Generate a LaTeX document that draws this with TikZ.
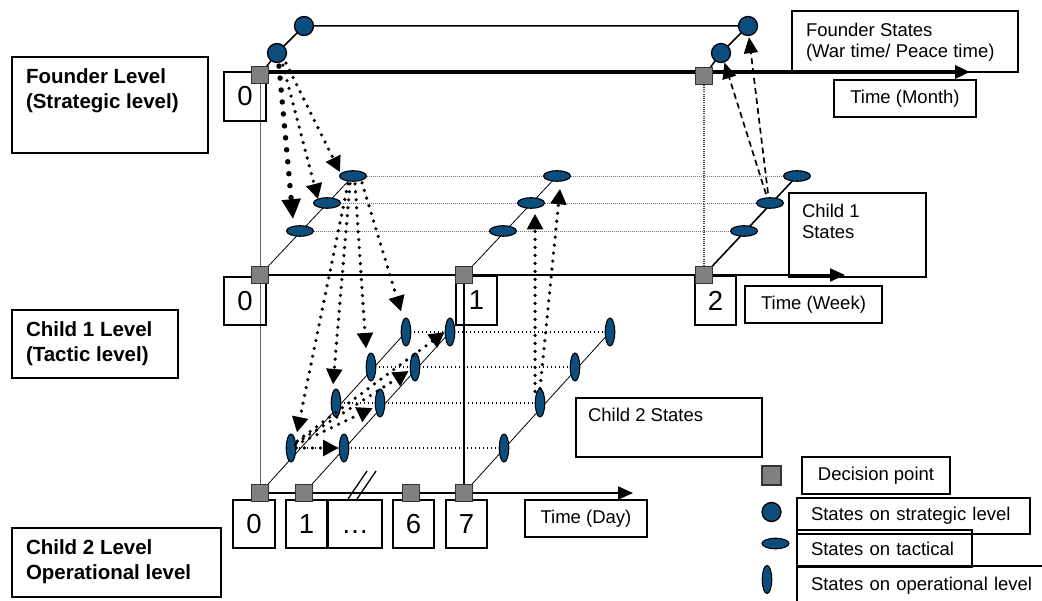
\documentclass[tikz,border=0pt]{standalone}
\usepackage{fontspec}
\setmainfont{Liberation Sans}
\usetikzlibrary{shapes.geometric,arrows.meta,backgrounds}
\definecolor{stateblue}{HTML}{0B4D7C}
\newcommand{\tboxtxt}[5]{\parbox[c][#2][t]{#1}{\vspace*{#4}\raggedright\leftskip=#3\relax #5\par}}
\tikzset{
 dpt/.style={draw=black!80, fill=gray, line width=1.3pt, minimum size=17.5pt, inner sep=0pt, outer sep=0pt},
 sst/.style={circle, draw=black, fill=stateblue, line width=1.3pt, minimum size=19pt, inner sep=0pt},
 tst/.style={ellipse, draw=black, fill=stateblue, line width=1.1pt, minimum width=27pt, minimum height=10.5pt, inner sep=0pt},
 ost/.style={ellipse, draw=black, fill=stateblue, line width=1.1pt, minimum width=9.5pt, minimum height=28pt, inner sep=0pt},
 frame/.style={draw, line width=1.4pt, inner sep=0pt, outer sep=0pt, anchor=north west},
 rtext/.style={font=\fontsize{18.5}{21.5}\selectfont},
 btext/.style={font=\bfseries\fontsize{20.5}{24.5}\selectfont},
 ntext/.style={font=\fontsize{27.5}{30}\selectfont},
 bigdots/.style={line width=5.5pt, dash pattern=on 0pt off 12pt, line cap=round, -{Triangle[length=20pt,width=18pt]}},
 middots/.style={line width=3.6pt, dash pattern=on 0pt off 8pt, line cap=round, -{Triangle[length=15.5pt,width=15.5pt]}},
 dasharrow/.style={line width=1.7pt, dash pattern=on 6pt off 4pt, -{Triangle[length=16pt,width=14pt]}},
 axisarrow/.style={-{Triangle[length=15pt,width=13pt]}},
 grayguide/.style={draw=black!55, line width=0.9pt, dash pattern=on 1pt off 1pt},
 blackguide/.style={line width=1.3pt, dash pattern=on 1.2pt off 2.8pt},
}
\begin{document}
\begin{tikzpicture}[x=1pt,y=-1pt]
\useasboundingbox (0,0) rectangle (1042,601);

% level boxes
\node[frame, btext] (lvlf) at (12,57) {\tboxtxt{196pt}{96pt}{14pt}{12pt}{Founder Level\\(Strategic level)}};
\node[frame, btext] (lvla) at (12,310) {\tboxtxt{166pt}{68pt}{14pt}{12pt}{Child 1 Level\\(Tactic level)}};
\node[frame, btext] (lvlb) at (12,528) {\tboxtxt{209pt}{69pt}{14pt}{12pt}{Child 2 Level\\Operational level}};

% state boxes
\node[frame, rtext] (fst) at (792,11) {\tboxtxt{226pt}{61pt}{14pt}{12pt}{Founder States\\(War time/ Peace time)}};
\node[frame, rtext] (cast) at (789,193) {\tboxtxt{137pt}{84pt}{13pt}{11pt}{Child 1\\States}};
\node[frame, rtext] (cbst) at (576,398) {\tboxtxt{186pt}{59pt}{12pt}{10pt}{Child 2 States}};

% time boxes
\node[frame, rtext, minimum width=142pt, minimum height=37pt] (tmon) at (834,80) {Time (Month)};
\node[frame, rtext, minimum width=137pt, minimum height=37pt] (twk) at (745,286) {Time (Week)};
\node[frame, rtext, minimum width=122pt, minimum height=37pt] (tday) at (525,500) {Time (Day)};

% legend boxes
\node[frame, rtext, minimum width=148pt, minimum height=37pt] (lga) at (802,457) {Decision point};
\node[frame, rtext, minimum height=36pt, inner xsep=14pt, text width=205pt, align=left] (lgb) at (797,498) {States on strategic level};
\node[frame, rtext, minimum height=37pt, inner xsep=14pt, text width=147pt, align=left] (lgc) at (797,530) {States on tactical};
\node[frame, rtext, minimum height=40pt, inner xsep=14pt, text width=237pt, align=left] (lgd) at (797,566) {States on operational level};

% number boxes
\node[frame, ntext, minimum width=42pt, minimum height=49pt] (nf0) at (224,72) {0};
\node[frame, ntext, minimum width=42pt, minimum height=48pt] (na0) at (224,277) {0};
\node[frame, ntext, minimum width=41pt, minimum height=49pt] (na1) at (456,276) {1};
\node[frame, ntext, minimum width=41pt, minimum height=49pt] (na2) at (695,276) {2};
\node[frame, ntext, minimum width=42pt, minimum height=48pt] (nb0) at (233,500) {0};
\node[frame, ntext, minimum width=41pt, minimum height=48pt] (nb1) at (286,500) {1};
\node[frame, ntext, minimum width=54pt, minimum height=48pt] (nbd) at (328,500) {\vphantom{0}…};
\node[frame, ntext, minimum width=41pt, minimum height=48pt] (nb6) at (393,500) {6};
\node[frame, ntext, minimum width=41pt, minimum height=48pt] (nb7) at (446,500) {7};

% decision points
\node[dpt] (f0) at (260,75) {};
\node[dpt] (f2) at (704,76) {};
\node[dpt] (ca0) at (260,275) {};
\node[dpt] (ca1) at (464,275) {};
\node[dpt] (ca2) at (704,275) {};
\node[dpt] (cb0) at (260,493) {};
\node[dpt] (cb1) at (304,493) {};
\node[dpt] (cb6) at (411,493) {};
\node[dpt] (cb7) at (464,493) {};

% strategic states
\node[sst] (fa) at (277,53) {};
\node[sst] (fb) at (304,26) {};
\node[sst] (fc) at (721,53) {};
\node[sst] (fd) at (748,26) {};

% tactical states
\node[tst] (t00) at (300,231) {};
\node[tst] (t01) at (327,203) {};
\node[tst] (t02) at (353,176) {};
\node[tst] (t10) at (503,231) {};
\node[tst] (t11) at (531,203) {};
\node[tst] (t12) at (557,176) {};
\node[tst] (t20) at (744,231) {};
\node[tst] (t21) at (770,203) {};
\node[tst] (t22) at (797,176) {};

% operational states
\node[ost] (o00) at (291,448) {};
\node[ost] (o01) at (336,403) {};
\node[ost] (o02) at (371,367) {};
\node[ost] (o03) at (406,332) {};
\node[ost] (o10) at (344,448) {};
\node[ost] (o11) at (380,403) {};
\node[ost] (o12) at (415,367) {};
\node[ost] (o13) at (450,332) {};
\node[ost] (o20) at (504,448) {};
\node[ost] (o21) at (540,403) {};
\node[ost] (o22) at (575,367) {};
\node[ost] (o23) at (610,332) {};

% legend symbols
\node[dpt, minimum size=19pt] (lsq) at (771.5,475.5) {};
\node[sst] (lci) at (771.5,512) {};
\node[tst] (lte) at (775.5,543.5) {};
\node[ost] (lop) at (767,579.5) {};

% axis ends
\coordinate (fax0) at (260,72);
\coordinate (faxE) at (970,72);
\coordinate (caxE) at (845,275);
\coordinate (cbxE) at (633,493);

\begin{scope}[on background layer]
 % verticals
 \draw[draw=black!60, line width=0.9pt] (f0.center) -- (cb0.center);
 \draw[draw=black!75, line width=1.2pt, dash pattern=on 1pt off 1.2pt] (f2.center) -- (ca2.center);
 \draw[line width=1.5pt] (ca1.center) -- (cb7.center);
 % axes
 \draw[line width=3.5pt, axisarrow] (fax0) -- (faxE);
 \draw[line width=2pt, axisarrow] (ca0.center) -- (caxE);
 \draw[line width=2pt, axisarrow] (cb0.center) -- (cbxE);
 % founder lines
 \draw[line width=1.5pt] (f0.center) -- (fa.center) -- (fb.center) -- (fd.center);
 \draw[line width=1.5pt] (f2.center) -- (fc.center) -- (fd.center);
 % child 1 diagonals and guides
 \draw[line width=0.8pt] (ca0.center) -- (t02.center);
 \draw[line width=0.8pt] (ca1.center) -- (t12.center);
 \draw[line width=1.6pt] (ca2.center) -- (t22.center);
 \draw[grayguide] (t00.center) -- (t20.center);
 \draw[grayguide] (t01.center) -- (t21.center);
 \draw[grayguide] (t02.center) -- (t22.center);
 % child 2 diagonals and guides
 \draw[line width=0.8pt] (cb0.center) -- (o03.center);
 \draw[line width=0.8pt] (cb1.center) -- (o13.center);
 \draw[line width=0.8pt] (cb7.center) -- (o23.center);
 \draw[blackguide] (o00.center) -- (o20.center);
 \draw[blackguide] (o01.center) -- (o21.center);
 \draw[blackguide] (o02.center) -- (o22.center);
 \draw[blackguide] (o03.center) -- (o23.center);
\end{scope}

% break mark on day axis
\draw[line width=1.3pt] (348,499) -- (367,471);
\draw[line width=1.3pt] (357,499) -- (376,471);

% founder -> child 1
\draw[bigdots] ([shift={(2,3)}]fa.south) -- ([shift={(-7,-6)}]t00.north);
\draw[middots] ([shift={(6,2)}]fa.south) -- ([shift={(-9,2)}]t01.north);
\draw[middots] ([shift={(9,0)}]fa.south) -- ([shift={(-13,2)}]t02.north);

% child 1 -> child 2
\draw[middots] ([shift={(-5,2)}]t02.south) -- ([shift={(6,-1)}]o00.north);
\draw[middots] ([shift={(-3,2)}]t02.south) -- ([shift={(-3,-4)}]o01.north);
\draw[middots] ([shift={(2,2)}]t02.south) -- ([shift={(-5,-4)}]o02.north);
\draw[middots] ([shift={(9,1)}]t02.south) -- ([shift={(-5,-6)}]o03.north);

% within child 2
\draw[middots] (o00.east) -- (o10.west);
\draw[middots] ([shift={(-1,-3)}]o00.east) -- ([shift={(-2,5)}]o11.west);
\draw[middots] ([shift={(0,-5)}]o00.east) -- ([shift={(-1,4)}]o12.west);
\draw[middots] ([shift={(1,-7)}]o00.east) -- (o13.west);

% child 2 -> child 1
\draw[middots] ([shift={(-5,3)}]o21.north) -- ([shift={(4,5)}]t11.south);
\draw[middots] (o21.north) -- ([shift={(3,7)}]t12.south);

% child 1 -> founder
\draw[dasharrow] ([shift={(-4,-3)}]t21.north) -- (fc.-70);
\draw[dasharrow] ([shift={(-2,-4)}]t21.north) -- ([shift={(1,1)}]fd.south);
\end{tikzpicture}
\end{document}
